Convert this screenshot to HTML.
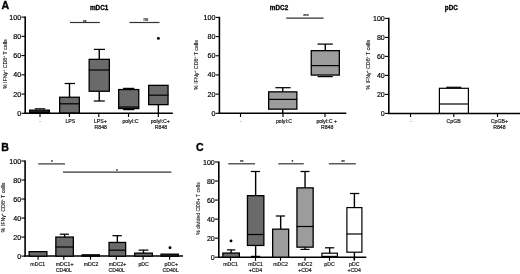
<!DOCTYPE html>
<html lang="en">
<head>
<meta charset="utf-8">
<title>Figure</title>
<style>
html,body{margin:0;padding:0;background:#fff;}
body{width:520px;height:274px;overflow:hidden;}
svg{display:block;filter:blur(0.3px);font-family:"Liberation Sans",sans-serif;}
</style>
</head>
<body>
<svg width="520" height="274" viewBox="0 0 520 274">
<rect x="0" y="0" width="520" height="274" fill="#fff"/>
<g>
<text x="1.4" y="8.9" font-size="10.6" text-anchor="start" font-weight="bold" fill="#000" stroke="#000" stroke-width="0.35" >A</text>
<text x="1.3" y="151.1" font-size="10.6" text-anchor="start" font-weight="bold" fill="#000" stroke="#000" stroke-width="0.35" >B</text>
<text x="195.9" y="151.1" font-size="10.6" text-anchor="start" font-weight="bold" fill="#000" stroke="#000" stroke-width="0.35" >C</text>
<line x1="25.2" y1="16.5" x2="25.2" y2="114.0" stroke="#000" stroke-width="1.6"/>
<line x1="24.5" y1="113.3" x2="172.8" y2="113.3" stroke="#000" stroke-width="1.5"/>
<line x1="21.4" y1="17.1" x2="25.2" y2="17.1" stroke="#000" stroke-width="1.1"/>
<text x="21.2" y="19.65" font-size="7.1" text-anchor="end" font-weight="normal" fill="#000" stroke="#000" stroke-width="0.18" >100</text>
<line x1="21.4" y1="36.34" x2="25.2" y2="36.34" stroke="#000" stroke-width="1.1"/>
<text x="21.2" y="38.89" font-size="7.1" text-anchor="end" font-weight="normal" fill="#000" stroke="#000" stroke-width="0.18" >80</text>
<line x1="21.4" y1="55.58" x2="25.2" y2="55.58" stroke="#000" stroke-width="1.1"/>
<text x="21.2" y="58.13" font-size="7.1" text-anchor="end" font-weight="normal" fill="#000" stroke="#000" stroke-width="0.18" >60</text>
<line x1="21.4" y1="74.82" x2="25.2" y2="74.82" stroke="#000" stroke-width="1.1"/>
<text x="21.2" y="77.37" font-size="7.1" text-anchor="end" font-weight="normal" fill="#000" stroke="#000" stroke-width="0.18" >40</text>
<line x1="21.4" y1="94.06" x2="25.2" y2="94.06" stroke="#000" stroke-width="1.1"/>
<text x="21.2" y="96.61" font-size="7.1" text-anchor="end" font-weight="normal" fill="#000" stroke="#000" stroke-width="0.18" >20</text>
<line x1="21.4" y1="113.29999999999998" x2="25.2" y2="113.29999999999998" stroke="#000" stroke-width="1.1"/>
<text x="21.2" y="115.85" font-size="7.1" text-anchor="end" font-weight="normal" fill="#000" stroke="#000" stroke-width="0.18" >0</text>
<line x1="40" y1="113.3" x2="40" y2="116.89999999999999" stroke="#000" stroke-width="1.15"/>
<line x1="69.4" y1="113.3" x2="69.4" y2="116.89999999999999" stroke="#000" stroke-width="1.15"/>
<line x1="98.8" y1="113.3" x2="98.8" y2="116.89999999999999" stroke="#000" stroke-width="1.15"/>
<line x1="128.5" y1="113.3" x2="128.5" y2="116.89999999999999" stroke="#000" stroke-width="1.15"/>
<line x1="158.3" y1="113.3" x2="158.3" y2="116.89999999999999" stroke="#000" stroke-width="1.15"/>
<text transform="translate(6.6,64.2) rotate(-90)" font-size="5.3" text-anchor="middle" fill="#111" stroke="#111" stroke-width="0.1">% IFN&#947;<tspan font-size="3.2" dy="-1.6">+</tspan><tspan dy="1.6"> CD8</tspan><tspan font-size="3.2" dy="-1.6">+</tspan><tspan dy="1.6"> T cells</tspan></text>
<text x="99.1" y="9.6" font-size="6.35" text-anchor="middle" font-weight="bold" fill="#000" stroke="#000" stroke-width="0.3" >mDC1</text>
<line x1="34.8" y1="108.8" x2="45.2" y2="108.8" stroke="#000" stroke-width="1.25"/>
<rect x="29.60" y="110.10" width="19.80" height="2.40" fill="#222" stroke="#000" stroke-width="1.2"/>
<line x1="69.5" y1="83.5" x2="69.5" y2="97.1" stroke="#000" stroke-width="1.4"/>
<line x1="64.6" y1="83.5" x2="75" y2="83.5" stroke="#000" stroke-width="1.25"/>
<rect x="59.65" y="97.25" width="19.70" height="15.70" fill="#6a6a6a" stroke="#000" stroke-width="1.3"/>
<line x1="59.3" y1="103.8" x2="79.7" y2="103.8" stroke="#000" stroke-width="1.2"/>
<line x1="99.25" y1="49.4" x2="99.25" y2="59.2" stroke="#000" stroke-width="1.4"/>
<line x1="93.8" y1="49.4" x2="105" y2="49.4" stroke="#000" stroke-width="1.25"/>
<line x1="99.25" y1="91.4" x2="99.25" y2="101" stroke="#000" stroke-width="1.4"/>
<rect x="89.15" y="59.35" width="20.20" height="31.90" fill="#6a6a6a" stroke="#000" stroke-width="1.3"/>
<line x1="88.8" y1="70" x2="109.7" y2="70" stroke="#000" stroke-width="1.2"/>
<line x1="93.8" y1="101" x2="104.8" y2="101" stroke="#000" stroke-width="1.25"/>
<line x1="123.1" y1="88.4" x2="134.29999999999998" y2="88.4" stroke="#000" stroke-width="1.25"/>
<line x1="123.1" y1="109.6" x2="134.29999999999998" y2="109.6" stroke="#000" stroke-width="1.25"/>
<rect x="118.65" y="89.55" width="20.10" height="19.00" fill="#6a6a6a" stroke="#000" stroke-width="1.3"/>
<line x1="118.3" y1="107" x2="139.1" y2="107" stroke="#000" stroke-width="1.2"/>
<line x1="158.35" y1="104.8" x2="158.35" y2="113" stroke="#000" stroke-width="1.4"/>
<rect x="148.65" y="85.35" width="19.40" height="19.30" fill="#6a6a6a" stroke="#000" stroke-width="1.3"/>
<line x1="148.3" y1="95.2" x2="168.39999999999998" y2="95.2" stroke="#000" stroke-width="1.2"/>
<circle cx="158.4" cy="38.4" r="1.45" fill="#000"/>
<line x1="70" y1="22.5" x2="99.8" y2="22.5" stroke="#333" stroke-width="1.2"/>
<text x="84.8" y="23.8" font-size="4.6" text-anchor="middle" font-weight="normal" fill="#222" stroke="#222" stroke-width="0.18" >**</text>
<line x1="129.5" y1="22.5" x2="159.5" y2="22.5" stroke="#333" stroke-width="1.2"/>
<text x="146" y="21.0" font-size="4.6" text-anchor="middle" font-weight="normal" fill="#222" stroke="#222" stroke-width="0.18" >ns</text>
<text x="40" y="123.2" font-size="5.2" text-anchor="middle" font-weight="normal" fill="#777" stroke="#777" stroke-width="0.18" >-</text>
<text x="70.3" y="122.9" font-size="5.2" text-anchor="middle" font-weight="normal" fill="#151515" stroke="#151515" stroke-width="0.18" >LPS</text>
<text x="100.4" y="122.9" font-size="5.2" text-anchor="middle" font-weight="normal" fill="#151515" stroke="#151515" stroke-width="0.18" >LPS+</text>
<text x="100.8" y="129.0" font-size="5.2" text-anchor="middle" font-weight="normal" fill="#151515" stroke="#151515" stroke-width="0.18" >R848</text>
<text x="130.5" y="122.9" font-size="5.2" text-anchor="middle" font-weight="normal" fill="#151515" stroke="#151515" stroke-width="0.18" >polyI:C</text>
<text x="160.3" y="122.9" font-size="5.2" text-anchor="middle" font-weight="normal" fill="#151515" stroke="#151515" stroke-width="0.18" >polyI:C+</text>
<text x="161" y="129.0" font-size="5.2" text-anchor="middle" font-weight="normal" fill="#151515" stroke="#151515" stroke-width="0.18" >R848</text>
<line x1="219.4" y1="16.799999999999997" x2="219.4" y2="114.0" stroke="#000" stroke-width="1.6"/>
<line x1="218.70000000000002" y1="113.3" x2="346.3" y2="113.3" stroke="#000" stroke-width="1.5"/>
<line x1="215.6" y1="17.4" x2="219.4" y2="17.4" stroke="#000" stroke-width="1.1"/>
<text x="215.4" y="19.95" font-size="7.1" text-anchor="end" font-weight="normal" fill="#000" stroke="#000" stroke-width="0.18" >100</text>
<line x1="215.6" y1="36.58" x2="219.4" y2="36.58" stroke="#000" stroke-width="1.1"/>
<text x="215.4" y="39.13" font-size="7.1" text-anchor="end" font-weight="normal" fill="#000" stroke="#000" stroke-width="0.18" >80</text>
<line x1="215.6" y1="55.76" x2="219.4" y2="55.76" stroke="#000" stroke-width="1.1"/>
<text x="215.4" y="58.31" font-size="7.1" text-anchor="end" font-weight="normal" fill="#000" stroke="#000" stroke-width="0.18" >60</text>
<line x1="215.6" y1="74.94" x2="219.4" y2="74.94" stroke="#000" stroke-width="1.1"/>
<text x="215.4" y="77.49" font-size="7.1" text-anchor="end" font-weight="normal" fill="#000" stroke="#000" stroke-width="0.18" >40</text>
<line x1="215.6" y1="94.12" x2="219.4" y2="94.12" stroke="#000" stroke-width="1.1"/>
<text x="215.4" y="96.67" font-size="7.1" text-anchor="end" font-weight="normal" fill="#000" stroke="#000" stroke-width="0.18" >20</text>
<line x1="215.6" y1="113.30000000000001" x2="219.4" y2="113.30000000000001" stroke="#000" stroke-width="1.1"/>
<text x="215.4" y="115.85" font-size="7.1" text-anchor="end" font-weight="normal" fill="#000" stroke="#000" stroke-width="0.18" >0</text>
<line x1="240.5" y1="113.3" x2="240.5" y2="116.89999999999999" stroke="#000" stroke-width="1.15"/>
<line x1="283" y1="113.3" x2="283" y2="116.89999999999999" stroke="#000" stroke-width="1.15"/>
<line x1="325" y1="113.3" x2="325" y2="116.89999999999999" stroke="#000" stroke-width="1.15"/>
<text transform="translate(197.7,65.0) rotate(-90)" font-size="5.3" text-anchor="middle" fill="#111" stroke="#111" stroke-width="0.1">% IFN&#947;<tspan font-size="3.2" dy="-1.6">+</tspan><tspan dy="1.6"> CD8</tspan><tspan font-size="3.2" dy="-1.6">+</tspan><tspan dy="1.6"> T cells</tspan></text>
<text x="279" y="9.8" font-size="6.35" text-anchor="middle" font-weight="bold" fill="#000" stroke="#000" stroke-width="0.3" >mDC2</text>
<line x1="282.75" y1="87.7" x2="282.75" y2="91.7" stroke="#000" stroke-width="1.4"/>
<line x1="275.4" y1="87.7" x2="290.6" y2="87.7" stroke="#000" stroke-width="1.25"/>
<line x1="282.75" y1="109.3" x2="282.75" y2="113" stroke="#000" stroke-width="1.4"/>
<rect x="268.65" y="91.85" width="28.20" height="17.30" fill="#9c9c9c" stroke="#000" stroke-width="1.3"/>
<line x1="268.3" y1="99.4" x2="297.2" y2="99.4" stroke="#000" stroke-width="1.2"/>
<line x1="317.59999999999997" y1="76.6" x2="332.8" y2="76.6" stroke="#000" stroke-width="1.25"/>
<line x1="325.3" y1="44.1" x2="325.3" y2="50.5" stroke="#000" stroke-width="1.4"/>
<line x1="317.5" y1="44.1" x2="332.8" y2="44.1" stroke="#000" stroke-width="1.25"/>
<rect x="311.25" y="50.65" width="28.10" height="24.40" fill="#9c9c9c" stroke="#000" stroke-width="1.3"/>
<line x1="310.90000000000003" y1="65.6" x2="339.7" y2="65.6" stroke="#000" stroke-width="1.2"/>
<line x1="286.2" y1="18.1" x2="323.6" y2="18.1" stroke="#333" stroke-width="1.2"/>
<text x="306" y="18.2" font-size="4.6" text-anchor="middle" font-weight="normal" fill="#222" stroke="#222" stroke-width="0.18" >***</text>
<text x="240.5" y="123.2" font-size="5.2" text-anchor="middle" font-weight="normal" fill="#777" stroke="#777" stroke-width="0.18" >-</text>
<text x="284" y="122.9" font-size="5.2" text-anchor="middle" font-weight="normal" fill="#151515" stroke="#151515" stroke-width="0.18" >polyI:C</text>
<text x="326.7" y="122.9" font-size="5.2" text-anchor="middle" font-weight="normal" fill="#151515" stroke="#151515" stroke-width="0.18" >polyI:C +</text>
<text x="327.2" y="129.0" font-size="5.2" text-anchor="middle" font-weight="normal" fill="#151515" stroke="#151515" stroke-width="0.18" >R848</text>
<line x1="388.8" y1="17.799999999999997" x2="388.8" y2="114.10000000000001" stroke="#000" stroke-width="1.6"/>
<line x1="388.1" y1="113.4" x2="520" y2="113.4" stroke="#000" stroke-width="1.5"/>
<line x1="385.0" y1="18.4" x2="388.8" y2="18.4" stroke="#000" stroke-width="1.1"/>
<text x="384.8" y="20.95" font-size="7.1" text-anchor="end" font-weight="normal" fill="#000" stroke="#000" stroke-width="0.18" >100</text>
<line x1="385.0" y1="37.4" x2="388.8" y2="37.4" stroke="#000" stroke-width="1.1"/>
<text x="384.8" y="39.95" font-size="7.1" text-anchor="end" font-weight="normal" fill="#000" stroke="#000" stroke-width="0.18" >80</text>
<line x1="385.0" y1="56.4" x2="388.8" y2="56.4" stroke="#000" stroke-width="1.1"/>
<text x="384.8" y="58.95" font-size="7.1" text-anchor="end" font-weight="normal" fill="#000" stroke="#000" stroke-width="0.18" >60</text>
<line x1="385.0" y1="75.4" x2="388.8" y2="75.4" stroke="#000" stroke-width="1.1"/>
<text x="384.8" y="77.95" font-size="7.1" text-anchor="end" font-weight="normal" fill="#000" stroke="#000" stroke-width="0.18" >40</text>
<line x1="385.0" y1="94.4" x2="388.8" y2="94.4" stroke="#000" stroke-width="1.1"/>
<text x="384.8" y="96.95" font-size="7.1" text-anchor="end" font-weight="normal" fill="#000" stroke="#000" stroke-width="0.18" >20</text>
<line x1="385.0" y1="113.4" x2="388.8" y2="113.4" stroke="#000" stroke-width="1.1"/>
<text x="384.8" y="115.95" font-size="7.1" text-anchor="end" font-weight="normal" fill="#000" stroke="#000" stroke-width="0.18" >0</text>
<line x1="410.5" y1="113.4" x2="410.5" y2="117.0" stroke="#000" stroke-width="1.15"/>
<line x1="453.8" y1="113.4" x2="453.8" y2="117.0" stroke="#000" stroke-width="1.15"/>
<line x1="497.5" y1="113.4" x2="497.5" y2="117.0" stroke="#000" stroke-width="1.15"/>
<text transform="translate(369.9,64.8) rotate(-90)" font-size="5.3" text-anchor="middle" fill="#111" stroke="#111" stroke-width="0.1">% IFN&#947;<tspan font-size="3.2" dy="-1.6">+</tspan><tspan dy="1.6"> CD8</tspan><tspan font-size="3.2" dy="-1.6">+</tspan><tspan dy="1.6"> T cells</tspan></text>
<text x="451.3" y="9.9" font-size="6.35" text-anchor="middle" font-weight="bold" fill="#000" stroke="#000" stroke-width="0.3" >pDC</text>
<line x1="446.3" y1="87.3" x2="461.3" y2="87.3" stroke="#000" stroke-width="1.25"/>
<rect x="439.40" y="88.30" width="29.00" height="25.00" fill="#ffffff" stroke="#000" stroke-width="1.2"/>
<line x1="439.1" y1="104" x2="468.7" y2="104" stroke="#000" stroke-width="1.2"/>
<text x="410.8" y="123.2" font-size="5.2" text-anchor="middle" font-weight="normal" fill="#777" stroke="#777" stroke-width="0.18" >-</text>
<text x="453.6" y="122.9" font-size="5.2" text-anchor="middle" font-weight="normal" fill="#151515" stroke="#151515" stroke-width="0.18" >CpGB</text>
<text x="499.4" y="122.9" font-size="5.2" text-anchor="middle" font-weight="normal" fill="#151515" stroke="#151515" stroke-width="0.18" >CpGB+</text>
<text x="499.4" y="129.0" font-size="5.2" text-anchor="middle" font-weight="normal" fill="#151515" stroke="#151515" stroke-width="0.18" >R848</text>
<line x1="25.1" y1="160.4" x2="25.1" y2="256.8" stroke="#000" stroke-width="1.6"/>
<line x1="24.400000000000002" y1="256.1" x2="183" y2="256.1" stroke="#000" stroke-width="1.5"/>
<line x1="21.3" y1="161.0" x2="25.1" y2="161.0" stroke="#000" stroke-width="1.1"/>
<text x="21.1" y="163.55" font-size="7.1" text-anchor="end" font-weight="normal" fill="#000" stroke="#000" stroke-width="0.18" >100</text>
<line x1="21.3" y1="180.02" x2="25.1" y2="180.02" stroke="#000" stroke-width="1.1"/>
<text x="21.1" y="182.57" font-size="7.1" text-anchor="end" font-weight="normal" fill="#000" stroke="#000" stroke-width="0.18" >80</text>
<line x1="21.3" y1="199.04000000000002" x2="25.1" y2="199.04000000000002" stroke="#000" stroke-width="1.1"/>
<text x="21.1" y="201.59" font-size="7.1" text-anchor="end" font-weight="normal" fill="#000" stroke="#000" stroke-width="0.18" >60</text>
<line x1="21.3" y1="218.06" x2="25.1" y2="218.06" stroke="#000" stroke-width="1.1"/>
<text x="21.1" y="220.61" font-size="7.1" text-anchor="end" font-weight="normal" fill="#000" stroke="#000" stroke-width="0.18" >40</text>
<line x1="21.3" y1="237.08" x2="25.1" y2="237.08" stroke="#000" stroke-width="1.1"/>
<text x="21.1" y="239.63" font-size="7.1" text-anchor="end" font-weight="normal" fill="#000" stroke="#000" stroke-width="0.18" >20</text>
<line x1="21.3" y1="256.1" x2="25.1" y2="256.1" stroke="#000" stroke-width="1.1"/>
<text x="21.1" y="258.65" font-size="7.1" text-anchor="end" font-weight="normal" fill="#000" stroke="#000" stroke-width="0.18" >0</text>
<line x1="38.1" y1="256.1" x2="38.1" y2="259.70000000000005" stroke="#000" stroke-width="1.15"/>
<line x1="63.8" y1="256.1" x2="63.8" y2="259.70000000000005" stroke="#000" stroke-width="1.15"/>
<line x1="90.5" y1="256.1" x2="90.5" y2="259.70000000000005" stroke="#000" stroke-width="1.15"/>
<line x1="116.3" y1="256.1" x2="116.3" y2="259.70000000000005" stroke="#000" stroke-width="1.15"/>
<line x1="143.1" y1="256.1" x2="143.1" y2="259.70000000000005" stroke="#000" stroke-width="1.15"/>
<line x1="169.6" y1="256.1" x2="169.6" y2="259.70000000000005" stroke="#000" stroke-width="1.15"/>
<text transform="translate(5.0,207.6) rotate(-90)" font-size="5.3" text-anchor="middle" fill="#111" stroke="#111" stroke-width="0.1">% IFN&#947;<tspan font-size="3.2" dy="-1.6">+</tspan><tspan dy="1.6"> CD8</tspan><tspan font-size="3.2" dy="-1.6">+</tspan><tspan dy="1.6"> T cells</tspan></text>
<rect x="29.15" y="251.65" width="17.70" height="4.50" fill="#6a6a6a" stroke="#000" stroke-width="1.3"/>
<line x1="64.6" y1="234.2" x2="64.6" y2="236.9" stroke="#000" stroke-width="1.4"/>
<line x1="59.8" y1="234.2" x2="69" y2="234.2" stroke="#000" stroke-width="1.25"/>
<rect x="55.85" y="237.05" width="17.50" height="19.10" fill="#6a6a6a" stroke="#000" stroke-width="1.3"/>
<line x1="55.5" y1="247" x2="73.7" y2="247" stroke="#000" stroke-width="1.2"/>
<rect x="82.10" y="254.80" width="17.30" height="1.40" fill="#222" stroke="#000" stroke-width="1.2"/>
<line x1="117.35" y1="235.7" x2="117.35" y2="242.3" stroke="#000" stroke-width="1.4"/>
<line x1="112.5" y1="235.7" x2="121.8" y2="235.7" stroke="#000" stroke-width="1.25"/>
<rect x="109.05" y="242.45" width="16.60" height="13.70" fill="#6a6a6a" stroke="#000" stroke-width="1.3"/>
<line x1="108.7" y1="250.2" x2="126.0" y2="250.2" stroke="#000" stroke-width="1.2"/>
<line x1="143.5" y1="250.1" x2="143.5" y2="253.0" stroke="#000" stroke-width="1.4"/>
<line x1="138.6" y1="250.1" x2="148.4" y2="250.1" stroke="#000" stroke-width="1.25"/>
<rect x="134.65" y="253.15" width="17.70" height="3.00" fill="#6a6a6a" stroke="#000" stroke-width="1.3"/>
<rect x="161.00" y="254.10" width="17.40" height="2.10" fill="#222" stroke="#000" stroke-width="1.2"/>
<circle cx="170" cy="247.8" r="1.45" fill="#000"/>
<line x1="38.2" y1="163.9" x2="65" y2="163.9" stroke="#333" stroke-width="1.2"/>
<text x="52" y="164.2" font-size="4.6" text-anchor="middle" font-weight="normal" fill="#222" stroke="#222" stroke-width="0.18" >*</text>
<line x1="63" y1="172.2" x2="171.3" y2="172.2" stroke="#333" stroke-width="1.2"/>
<text x="117" y="172.6" font-size="4.6" text-anchor="middle" font-weight="normal" fill="#222" stroke="#222" stroke-width="0.18" >*</text>
<text x="37.7" y="265.8" font-size="5.2" text-anchor="middle" font-weight="normal" fill="#151515" stroke="#151515" stroke-width="0.18" >mDC1</text>
<text x="64.6" y="265.8" font-size="5.2" text-anchor="middle" font-weight="normal" fill="#151515" stroke="#151515" stroke-width="0.18" >mDC1+</text>
<text x="63.8" y="272.0" font-size="5.2" text-anchor="middle" font-weight="normal" fill="#151515" stroke="#151515" stroke-width="0.18" >CD40L</text>
<text x="91" y="265.8" font-size="5.2" text-anchor="middle" font-weight="normal" fill="#151515" stroke="#151515" stroke-width="0.18" >mDC2</text>
<text x="117.5" y="265.8" font-size="5.2" text-anchor="middle" font-weight="normal" fill="#151515" stroke="#151515" stroke-width="0.18" >mDC2+</text>
<text x="116.7" y="272.0" font-size="5.2" text-anchor="middle" font-weight="normal" fill="#151515" stroke="#151515" stroke-width="0.18" >CD40L</text>
<text x="143.6" y="265.8" font-size="5.2" text-anchor="middle" font-weight="normal" fill="#151515" stroke="#151515" stroke-width="0.18" >pDC</text>
<text x="171.3" y="265.8" font-size="5.2" text-anchor="middle" font-weight="normal" fill="#151515" stroke="#151515" stroke-width="0.18" >pDC+</text>
<text x="170.5" y="272.0" font-size="5.2" text-anchor="middle" font-weight="normal" fill="#151515" stroke="#151515" stroke-width="0.18" >CD40L</text>
<line x1="218.8" y1="161.4" x2="218.8" y2="257.9" stroke="#000" stroke-width="1.6"/>
<line x1="218.10000000000002" y1="257.2" x2="366.3" y2="257.2" stroke="#000" stroke-width="1.5"/>
<line x1="215.0" y1="162.0" x2="218.8" y2="162.0" stroke="#000" stroke-width="1.1"/>
<text x="214.8" y="164.55" font-size="7.1" text-anchor="end" font-weight="normal" fill="#000" stroke="#000" stroke-width="0.18" >100</text>
<line x1="215.0" y1="181.04" x2="218.8" y2="181.04" stroke="#000" stroke-width="1.1"/>
<text x="214.8" y="183.59" font-size="7.1" text-anchor="end" font-weight="normal" fill="#000" stroke="#000" stroke-width="0.18" >80</text>
<line x1="215.0" y1="200.07999999999998" x2="218.8" y2="200.07999999999998" stroke="#000" stroke-width="1.1"/>
<text x="214.8" y="202.63" font-size="7.1" text-anchor="end" font-weight="normal" fill="#000" stroke="#000" stroke-width="0.18" >60</text>
<line x1="215.0" y1="219.12" x2="218.8" y2="219.12" stroke="#000" stroke-width="1.1"/>
<text x="214.8" y="221.67" font-size="7.1" text-anchor="end" font-weight="normal" fill="#000" stroke="#000" stroke-width="0.18" >40</text>
<line x1="215.0" y1="238.16" x2="218.8" y2="238.16" stroke="#000" stroke-width="1.1"/>
<text x="214.8" y="240.71" font-size="7.1" text-anchor="end" font-weight="normal" fill="#000" stroke="#000" stroke-width="0.18" >20</text>
<line x1="215.0" y1="257.2" x2="218.8" y2="257.2" stroke="#000" stroke-width="1.1"/>
<text x="214.8" y="259.75" font-size="7.1" text-anchor="end" font-weight="normal" fill="#000" stroke="#000" stroke-width="0.18" >0</text>
<line x1="230.5" y1="257.2" x2="230.5" y2="260.8" stroke="#000" stroke-width="1.15"/>
<line x1="255.5" y1="257.2" x2="255.5" y2="260.8" stroke="#000" stroke-width="1.15"/>
<line x1="280.5" y1="257.2" x2="280.5" y2="260.8" stroke="#000" stroke-width="1.15"/>
<line x1="305" y1="257.2" x2="305" y2="260.8" stroke="#000" stroke-width="1.15"/>
<line x1="329.5" y1="257.2" x2="329.5" y2="260.8" stroke="#000" stroke-width="1.15"/>
<line x1="354.3" y1="257.2" x2="354.3" y2="260.8" stroke="#000" stroke-width="1.15"/>
<text transform="translate(200.0,208.6) rotate(-90)" font-size="5.1" text-anchor="middle" fill="#111" stroke="#111" stroke-width="0.1">% divided CD8+ T cells</text>
<line x1="231.1" y1="249.9" x2="231.1" y2="252.9" stroke="#000" stroke-width="1.4"/>
<line x1="226.9" y1="249.9" x2="235.3" y2="249.9" stroke="#000" stroke-width="1.25"/>
<rect x="222.85" y="253.05" width="16.50" height="4.10" fill="#6a6a6a" stroke="#000" stroke-width="1.3"/>
<circle cx="231" cy="240.9" r="1.45" fill="#000"/>
<line x1="251.0" y1="256.4" x2="260.2" y2="256.4" stroke="#000" stroke-width="1.25"/>
<line x1="255.65" y1="171.5" x2="255.65" y2="195.5" stroke="#000" stroke-width="1.4"/>
<line x1="250.8" y1="171.5" x2="260" y2="171.5" stroke="#000" stroke-width="1.25"/>
<line x1="255.65" y1="245.6" x2="255.65" y2="256.5" stroke="#000" stroke-width="1.4"/>
<rect x="247.45" y="195.65" width="16.40" height="49.80" fill="#6a6a6a" stroke="#000" stroke-width="1.3"/>
<line x1="247.10000000000002" y1="234.5" x2="264.2" y2="234.5" stroke="#000" stroke-width="1.2"/>
<line x1="280.65" y1="216" x2="280.65" y2="229.0" stroke="#000" stroke-width="1.4"/>
<line x1="275.8" y1="216" x2="285" y2="216" stroke="#000" stroke-width="1.25"/>
<rect x="272.65" y="229.15" width="16.00" height="28.00" fill="#9c9c9c" stroke="#000" stroke-width="1.3"/>
<line x1="300.5" y1="249.4" x2="309.5" y2="249.4" stroke="#000" stroke-width="1.25"/>
<line x1="305.05" y1="171.5" x2="305.05" y2="187.7" stroke="#000" stroke-width="1.4"/>
<line x1="300.5" y1="171.5" x2="309.5" y2="171.5" stroke="#000" stroke-width="1.25"/>
<line x1="305.05" y1="247.3" x2="305.05" y2="249.5" stroke="#000" stroke-width="1.4"/>
<rect x="296.95" y="187.85" width="16.20" height="59.30" fill="#9c9c9c" stroke="#000" stroke-width="1.3"/>
<line x1="296.6" y1="226.5" x2="313.5" y2="226.5" stroke="#000" stroke-width="1.2"/>
<line x1="329.65" y1="247.8" x2="329.65" y2="253.1" stroke="#000" stroke-width="1.4"/>
<line x1="325" y1="247.8" x2="334.3" y2="247.8" stroke="#000" stroke-width="1.25"/>
<rect x="321.90" y="253.20" width="15.50" height="3.20" fill="#ffffff" stroke="#000" stroke-width="1.2"/>
<line x1="354.4" y1="193.5" x2="354.4" y2="207.5" stroke="#000" stroke-width="1.4"/>
<line x1="350" y1="193.5" x2="359.3" y2="193.5" stroke="#000" stroke-width="1.25"/>
<line x1="354.4" y1="252.3" x2="354.4" y2="260" stroke="#000" stroke-width="1.4"/>
<rect x="346.90" y="207.60" width="15.00" height="44.60" fill="#ffffff" stroke="#000" stroke-width="1.2"/>
<line x1="346.6" y1="234" x2="362.2" y2="234" stroke="#000" stroke-width="1.2"/>
<line x1="228.3" y1="163.8" x2="255" y2="163.8" stroke="#333" stroke-width="1.2"/>
<text x="241.8" y="164.3" font-size="4.6" text-anchor="middle" font-weight="normal" fill="#222" stroke="#222" stroke-width="0.18" >**</text>
<line x1="278.3" y1="163.8" x2="303.8" y2="163.8" stroke="#333" stroke-width="1.2"/>
<text x="292.5" y="164.3" font-size="4.6" text-anchor="middle" font-weight="normal" fill="#222" stroke="#222" stroke-width="0.18" >*</text>
<line x1="328.8" y1="163.8" x2="355.8" y2="163.8" stroke="#333" stroke-width="1.2"/>
<text x="343" y="164.3" font-size="4.6" text-anchor="middle" font-weight="normal" fill="#222" stroke="#222" stroke-width="0.18" >**</text>
<text x="230.5" y="265.6" font-size="5.2" text-anchor="middle" font-weight="normal" fill="#151515" stroke="#151515" stroke-width="0.18" >mDC1</text>
<text x="255.5" y="265.6" font-size="5.2" text-anchor="middle" font-weight="normal" fill="#151515" stroke="#151515" stroke-width="0.18" >mDC1</text>
<text x="255.5" y="271.8" font-size="5.2" text-anchor="middle" font-weight="normal" fill="#151515" stroke="#151515" stroke-width="0.18" >+CD4</text>
<text x="280.5" y="265.6" font-size="5.2" text-anchor="middle" font-weight="normal" fill="#151515" stroke="#151515" stroke-width="0.18" >mDC2</text>
<text x="305" y="265.6" font-size="5.2" text-anchor="middle" font-weight="normal" fill="#151515" stroke="#151515" stroke-width="0.18" >mDC2</text>
<text x="305" y="271.8" font-size="5.2" text-anchor="middle" font-weight="normal" fill="#151515" stroke="#151515" stroke-width="0.18" >+CD4</text>
<text x="329.5" y="265.6" font-size="5.2" text-anchor="middle" font-weight="normal" fill="#151515" stroke="#151515" stroke-width="0.18" >pDC</text>
<text x="354.3" y="265.6" font-size="5.2" text-anchor="middle" font-weight="normal" fill="#151515" stroke="#151515" stroke-width="0.18" >pDC</text>
<text x="354.3" y="271.8" font-size="5.2" text-anchor="middle" font-weight="normal" fill="#151515" stroke="#151515" stroke-width="0.18" >+CD4</text>
</g>
</svg>
</body>
</html>
